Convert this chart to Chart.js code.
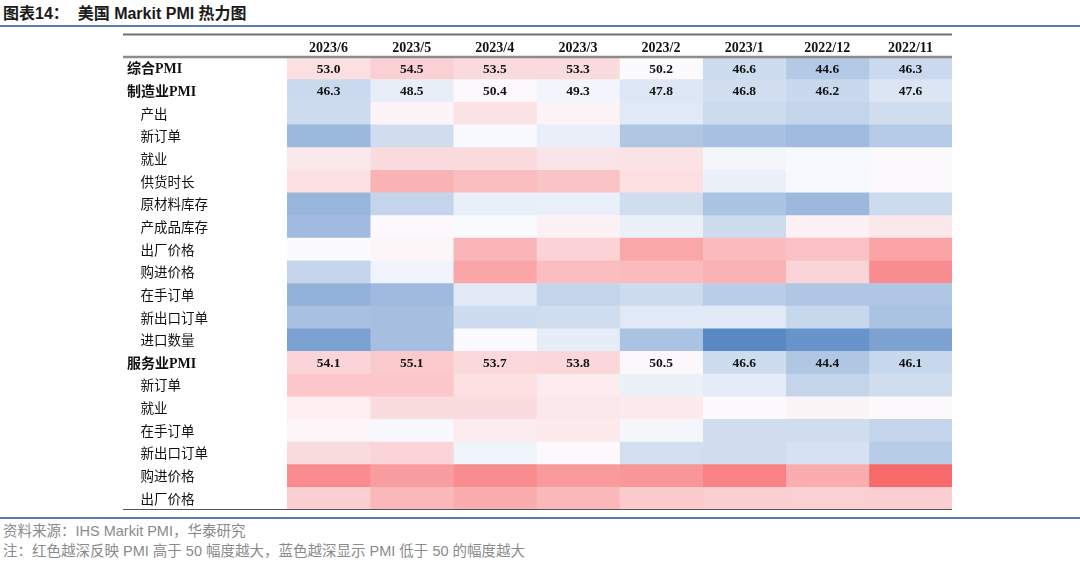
<!DOCTYPE html>
<html>
<head>
<meta charset="utf-8">
<script src="https://cdn.jsdelivr.net/npm/chart.js@4"></script>
<style>
body{margin:0;width:1080px;height:563px;background:#fff;position:relative;overflow:hidden;font-family:"Liberation Sans","Noto Sans CJK SC",sans-serif}
#title{position:absolute;left:3px;top:3px;font-size:16px;font-weight:bold;color:#1a1a1a;white-space:pre;line-height:22px}
.bline{position:absolute;left:0;width:1080px;height:2px;background:#5a7db0}
#box{position:absolute;left:123px;top:33px;width:829px;height:477px}
.note{position:absolute;left:3px;font-size:14.5px;color:#8a8a8a;white-space:pre;line-height:18px}
</style>
</head>
<body>
<div id="title">图表14：  美国 Markit PMI 热力图</div>
<div class="bline" style="top:25px"></div>
<div id="box"><canvas id="myChart"></canvas></div>
<div class="bline" style="top:517px"></div>
<div class="note" style="top:522px">资料来源：IHS Markit PMI，华泰研究</div>
<div class="note" style="top:542px">注：红色越深反映 PMI 高于 50 幅度越大，蓝色越深显示 PMI 低于 50 的幅度越大</div>

<script>
// 月份（列）
const months = ['2023/6','2023/5','2023/4','2023/3','2023/2','2023/1','2022/12','2022/11'];

// 行标签
const rowLabels = ['综合PMI','制造业PMI','产出','新订单','就业','供货时长','原材料库存','产成品库存','出厂价格','购进价格','在手订单','新出口订单','进口数量',
                   '服务业PMI','新订单','就业','在手订单','新出口订单','购进价格','出厂价格'];

// 各行数值（标注数值的行来自图上，其他行按颜色深浅估计）
const compositePMI      = [53.0,54.5,53.5,53.3,50.2,46.6,44.6,46.3];
const mfgPMI            = [46.3,48.5,50.4,49.3,47.8,46.8,46.2,47.6];
const mfgOutput         = [46.5,50.8,52.7,50.9,48.0,46.5,45.8,46.7];
const mfgNewOrders      = [42.8,46.7,49.7,48.6,44.4,43.8,43.2,44.7];
const mfgEmployment     = [52.0,53.3,53.3,52.4,52.6,49.4,49.7,50.3];
const mfgDelivery       = [52.8,57.5,56.3,55.7,53.0,48.8,49.7,50.2];
const mfgRawStocks      = [42.6,45.8,48.6,48.7,46.7,44.0,42.9,46.5];
const mfgFinishedStocks = [43.2,50.4,49.8,51.0,48.8,46.5,51.0,52.0];
const mfgOutputPrices   = [49.9,50.6,57.2,54.2,58.7,56.5,56.0,59.0];
const mfgInputPrices    = [45.9,49.1,58.8,56.3,56.6,57.5,54.1,61.4];
const mfgBacklogs       = [42.2,43.0,48.0,45.8,46.5,45.0,44.3,44.3];
const mfgExportOrders   = [43.8,43.6,46.6,46.7,48.0,48.0,46.1,44.0];
const mfgImports        = [40.4,43.6,49.9,48.4,44.0,38.0,39.0,40.5];
const svcPMI            = [54.1,55.1,53.7,53.8,50.5,46.6,44.4,46.1];
const svcNewOrders      = [55.4,55.4,53.0,51.6,48.8,48.3,45.8,46.7];
const svcEmployment     = [51.4,53.3,53.3,52.0,51.8,50.2,50.7,50.2];
const svcBacklogs       = [50.6,49.6,51.6,51.8,49.4,46.7,46.7,45.8];
const svcExportOrders   = [53.3,54.1,49.0,50.4,46.9,46.7,47.2,44.9];
const svcInputPrices    = [61.4,59.6,61.4,59.9,60.4,62.5,58.1,65.0];
const svcOutputPrices   = [54.7,56.9,58.1,56.9,55.0,54.7,54.5,54.7];

// 显示数字的行
const labeledRows = [0,1,13];

const rows = [compositePMI,mfgPMI,mfgOutput,mfgNewOrders,mfgEmployment,mfgDelivery,mfgRawStocks,mfgFinishedStocks,
              mfgOutputPrices,mfgInputPrices,mfgBacklogs,mfgExportOrders,mfgImports,
              svcPMI,svcNewOrders,svcEmployment,svcBacklogs,svcExportOrders,svcInputPrices,svcOutputPrices];

const allVals = rows.flat();
const maxV = Math.max(...allVals);
const minV = Math.min(...allVals);

// 红-白-蓝 色阶，中点为50
function cellColor(v){
    const mid = [252,252,255], red = [248,105,107], blue = [90,138,198];
    let t, end;
    if (v >= 50){ t = (v-50)/(maxV-50); end = red; }
    else { t = (50-v)/(50-minV); end = blue; }
    t = Math.min(1, Math.max(0, t));
    const c = mid.map((m,i)=>Math.round(m + (end[i]-m)*t));
    return `rgb(${c[0]},${c[1]},${c[2]})`;
}

const datasets = months.map((m,ci)=>({
    label: m,
    data: rows.map(()=>1),
    backgroundColor: rows.map(r=>cellColor(r[ci])),
    borderWidth: 0,
    barPercentage: 1,
    categoryPercentage: 1
}));

const serif = '"Liberation Serif","Noto Sans CJK SC",serif';

const tablePlugin = {
    id: 'tablePlugin',
    afterDatasetsDraw(chart){
        const ctx = chart.ctx;
        ctx.save();
        ctx.font = `bold 13.5px ${serif}`;
        ctx.fillStyle = '#111';
        ctx.textAlign = 'center';
        ctx.textBaseline = 'middle';
        chart.data.datasets.forEach((ds,ci)=>{
            const meta = chart.getDatasetMeta(ci);
            labeledRows.forEach(ri=>{
                const p = meta.data[ri].getCenterPoint();
                ctx.fillText(rows[ri][ci].toFixed(1), p.x, p.y+1);
            });
        });
        ctx.restore();
    },
    afterDraw(chart){
        const ctx = chart.ctx;
        const {top, bottom, right} = chart.chartArea;
        ctx.save();
        ctx.strokeStyle = '#707070';
        ctx.lineWidth = 2;
        ctx.beginPath(); ctx.moveTo(0,1.5); ctx.lineTo(right,1.5); ctx.stroke();
        ctx.strokeStyle = '#8c8c8c';
        ctx.lineWidth = 2.5;
        ctx.beginPath(); ctx.moveTo(0,top); ctx.lineTo(right,top); ctx.stroke();
        ctx.strokeStyle = '#555';
        ctx.lineWidth = 2;
        ctx.beginPath(); ctx.moveTo(0,bottom); ctx.lineTo(right,bottom); ctx.stroke();
        ctx.restore();
    }
};

new Chart(document.querySelector('#myChart'), {
    type: 'bar',
    data: { labels: rowLabels, datasets },
    options: {
        indexAxis: 'y',
        responsive: true,
        maintainAspectRatio: false,
        animation: false,
        layout: { padding: { left: 4, right: 0, top: 0, bottom: 0 } },
        plugins: { legend: { display: false }, tooltip: { enabled: false } },
        scales: {
            x: {
                type: 'linear',
                position: 'top',
                stacked: true,
                min: 0,
                max: months.length,
                grid: { display: false, drawTicks: false },
                border: { display: false },
                afterBuildTicks: s => { s.ticks = months.map((m,i)=>({ value: i + 0.5 })); },
                afterFit: s => { s.height = 24; s.paddingLeft = 0; s.paddingRight = 0; },
                ticks: {
                    autoSkip: false,
                    maxRotation: 0,
                    padding: 0,
                    color: '#111',
                    font: { family: serif, size: 14, weight: 'bold' },
                    callback: (v, i) => months[i]
                }
            },
            y: {
                stacked: true,
                grid: { display: false, drawTicks: false },
                border: { display: false },
                afterFit: s => { s.width = 160; s.paddingTop = 0; s.paddingBottom = 0; },
                ticks: {
                    autoSkip: false,
                    crossAlign: 'far',
                    padding: 0,
                    labelOffset: 1.5,
                    color: '#111',
                    font: c => labeledRows.includes(c.index)
                        ? { family: serif, size: 14, weight: 'bold' }
                        : { family: serif, size: 13.5, weight: 'normal' },
                    callback: function(v, i){
                        const lbl = this.getLabelForValue(v);
                        return labeledRows.includes(i) ? lbl : '\u3000' + lbl;
                    }
                }
            }
        }
    },
    plugins: [tablePlugin]
});
</script>
</body>
</html>
